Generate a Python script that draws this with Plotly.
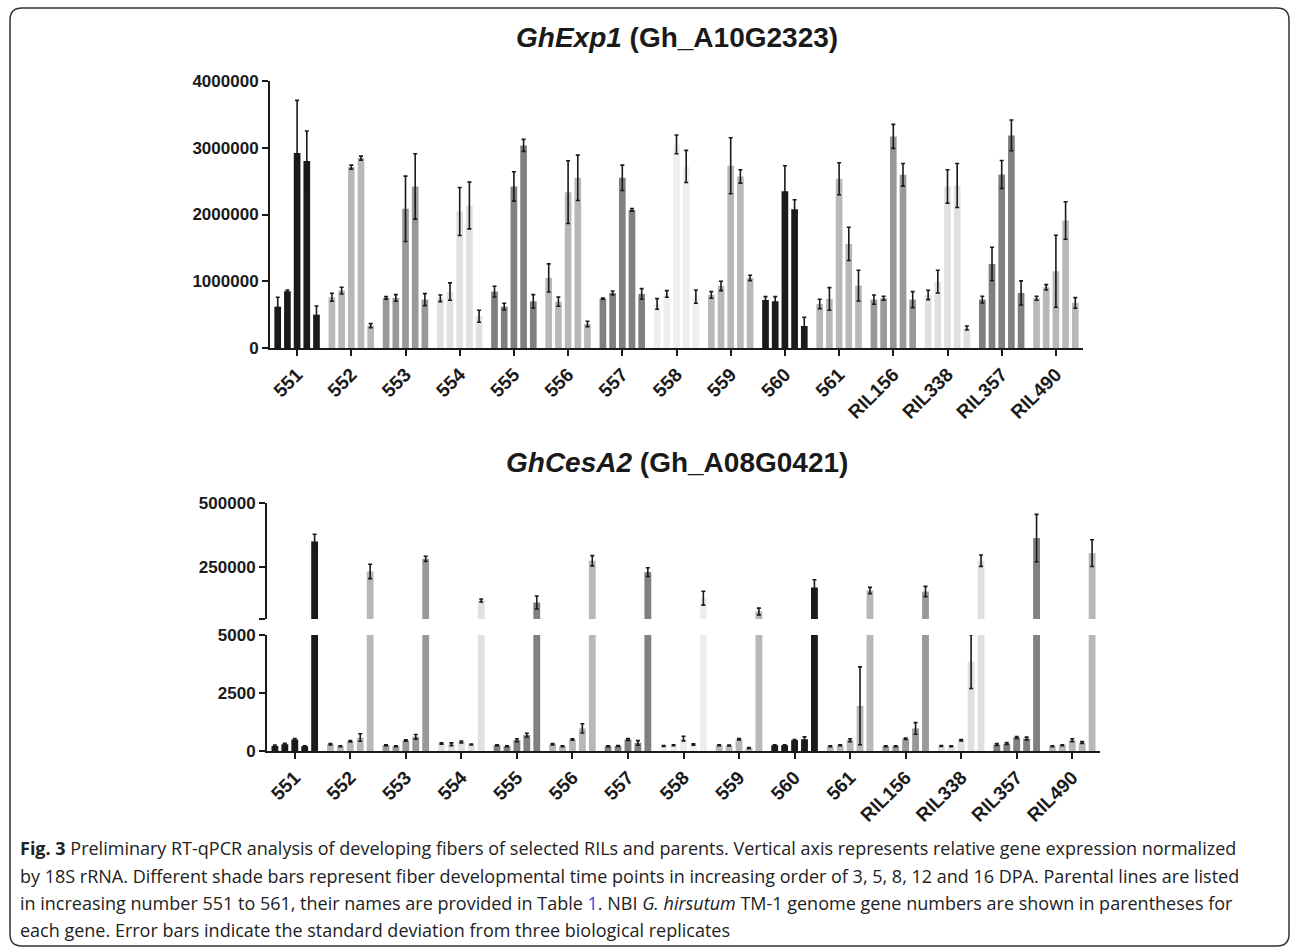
import plotly.graph_objects as go

W, H = 1292, 949

groups = ["551", "552", "553", "554", "555", "556", "557", "558", "559", "560",
          "561", "RIL156", "RIL338", "RIL357", "RIL490"]
group_colors = ["#1a1a1a", "#b8b8b8", "#999999", "#e0e0e0", "#808080", "#b8b8b8",
                "#808080", "#eeeeee", "#b8b8b8", "#1a1a1a", "#b8b8b8", "#999999",
                "#e0e0e0", "#808080", "#b8b8b8"]
time_points = ["3 DPA", "5 DPA", "8 DPA", "12 DPA", "16 DPA"]

# GhExp1 (Gh_A10G2323): mean per group, 5 time points
exp1_mean = [
    [620000, 850000, 2920000, 2800000, 500000],
    [760000, 860000, 2710000, 2845000, 335000],
    [750000, 750000, 2085000, 2420000, 725000],
    [745000, 845000, 2045000, 2135000, 475000],
    [845000, 620000, 2420000, 3035000, 700000],
    [1050000, 695000, 2335000, 2550000, 360000],
    [740000, 825000, 2550000, 2070000, 810000],
    [660000, 810000, 3050000, 2720000, 770000],
    [795000, 930000, 2730000, 2570000, 1050000],
    [720000, 700000, 2350000, 2080000, 330000],
    [660000, 735000, 2535000, 1560000, 935000],
    [725000, 745000, 3170000, 2595000, 725000],
    [795000, 995000, 2420000, 2435000, 300000],
    [725000, 1260000, 2600000, 3185000, 825000],
    [745000, 910000, 1150000, 1910000, 675000],
]
exp1_sd = [
    [140000, 20000, 790000, 450000, 130000],
    [60000, 50000, 30000, 30000, 30000],
    [20000, 50000, 490000, 490000, 90000],
    [50000, 130000, 360000, 350000, 90000],
    [80000, 50000, 220000, 90000, 100000],
    [210000, 70000, 470000, 340000, 40000],
    [10000, 30000, 190000, 20000, 80000],
    [80000, 50000, 140000, 240000, 100000],
    [50000, 70000, 420000, 100000, 40000],
    [50000, 70000, 380000, 140000, 130000],
    [70000, 170000, 240000, 250000, 230000],
    [70000, 30000, 180000, 170000, 120000],
    [70000, 170000, 250000, 330000, 30000],
    [50000, 250000, 210000, 230000, 180000],
    [30000, 40000, 540000, 280000, 80000],
]

# GhCesA2 (Gh_A08G0421)
cesa_mean = [
    [218, 290, 494, 203, 351000],
    [290, 203, 420, 581, 234500],
    [247, 203, 450, 610, 283700],
    [320, 290, 392, 276, 121800],
    [247, 203, 465, 683, 114000],
    [290, 203, 494, 974, 276000],
    [203, 218, 494, 349, 231900],
    [218, 247, 538, 276, 130800],
    [247, 233, 509, 131, 79000],
    [247, 247, 465, 509, 172300],
    [203, 247, 465, 1948, 160600],
    [203, 203, 523, 974, 156700],
    [218, 203, 465, 3852, 276000],
    [276, 320, 581, 538, 364000],
    [203, 247, 465, 363, 305700],
]
cesa_sd = [
    [40, 40, 40, 20, 28000],
    [30, 20, 30, 160, 28000],
    [20, 20, 30, 100, 10000],
    [30, 60, 40, 20, 6000],
    [20, 20, 60, 80, 25000],
    [30, 20, 30, 200, 20000],
    [20, 20, 40, 100, 17000],
    [20, 20, 100, 30, 27000],
    [20, 20, 30, 20, 13000],
    [20, 20, 30, 100, 30000],
    [20, 20, 60, 1680, 12000],
    [20, 20, 30, 250, 20000],
    [20, 20, 30, 1160, 22000],
    [40, 40, 40, 60, 92000],
    [20, 20, 60, 40, 52000],
]

exp1_ticks = [0, 1000000, 2000000, 3000000, 4000000]
cesa_low_ticks = [0, 2500, 5000]
cesa_high_ticks = [50000, 250000, 500000]
cesa_high_labels = ["", "250000", "500000"]

FONT = "Arial, Liberation Sans, sans-serif"
INK = "#1a1a1a"


def px_x(p):
    return p / W


def px_y(p):
    return 1 - p / H


fig = go.Figure()


def add_bars(mean, sd, xa, ya):
    for t in range(len(time_points)):
        fig.add_trace(go.Bar(
            x=groups,
            y=[row[t] for row in mean],
            name=time_points[t],
            marker=dict(color=group_colors, line=dict(width=0)),
            error_y=dict(type="data", array=[row[t] for row in sd],
                         color=INK, thickness=1.6, width=2),
            xaxis=xa, yaxis=ya, showlegend=False,
        ))


add_bars(exp1_mean, exp1_sd, "x", "y")
add_bars(cesa_mean, cesa_sd, "x2", "y2")
add_bars(cesa_mean, cesa_sd, "x3", "y3")

xtickfont = dict(family=FONT, size=19, color=INK, weight="bold")
ytickfont = dict(family=FONT, size=17, color=INK, weight="bold")
xcommon = dict(type="category", range=[-0.5, 14.5], showline=True, linecolor=INK,
               linewidth=2, ticks="outside", ticklen=6, tickwidth=1.5, tickcolor=INK,
               tickangle=-45, tickfont=xtickfont, showgrid=False, zeroline=False,
               fixedrange=True, automargin=False)
ycommon = dict(showline=True, linecolor=INK, linewidth=2, ticks="outside", ticklen=6,
               tickwidth=1.5, tickcolor=INK, tickfont=ytickfont, showgrid=False,
               zeroline=False, tickformat="d", fixedrange=True, automargin=False)

fig.update_layout(
    template="none",
    width=W, height=H, autosize=False,
    margin=dict(l=0, r=0, t=0, b=0, pad=0, autoexpand=False),
    paper_bgcolor="white", plot_bgcolor="white",
    barmode="group", bargap=0.106, bargroupgap=0.31,
    font=dict(family=FONT, color=INK),
    xaxis=dict(xcommon, domain=[px_x(270), px_x(1083)], anchor="y"),
    yaxis=dict(ycommon, domain=[px_y(348), px_y(81)], anchor="x",
               range=[0, 4000000], tickvals=exp1_ticks),
    xaxis2=dict(xcommon, domain=[px_x(267), px_x(1100)], anchor="y2"),
    yaxis2=dict(ycommon, domain=[px_y(751), px_y(635)], anchor="x2",
                range=[0, 5000], tickvals=cesa_low_ticks),
    xaxis3=dict(domain=[px_x(267), px_x(1100)], anchor="y3", type="category",
                range=[-0.5, 14.5], visible=False, fixedrange=True,
                automargin=False),
    yaxis3=dict(ycommon, domain=[px_y(619), px_y(503)], anchor="x3",
                range=[50000, 500000], tickvals=cesa_high_ticks,
                ticktext=cesa_high_labels),
)

annotations = [
    dict(text="<b><i>GhExp1</i> (Gh_A10G2323)</b>", x=px_x(677), y=px_y(38),
         font=dict(family=FONT, size=28, color=INK)),
    dict(text="<b><i>GhCesA2</i> (Gh_A08G0421)</b>", x=px_x(677), y=px_y(462),
         font=dict(family=FONT, size=28, color=INK)),
]
for a in annotations:
    a.update(xref="paper", yref="paper", showarrow=False, xanchor="center",
             yanchor="middle")

caption_lines = [
    "<b>Fig. 3</b> Preliminary RT-qPCR analysis of developing fibers of selected RILs and parents. Vertical axis represents relative gene expression normalized",
    "by 18S rRNA. Different shade bars represent fiber developmental time points in increasing order of 3, 5, 8, 12 and 16 DPA. Parental lines are listed",
    "in increasing number 551 to 561, their names are provided in Table <span style='color:#2a4fd6'>1</span>. NBI <i>G. hirsutum</i> TM-1 genome gene numbers are shown in parentheses for",
    "each gene. Error bars indicate the standard deviation from three biological replicates",
]
caption_y = [848, 876, 903, 930]
for line, yy in zip(caption_lines, caption_y):
    annotations.append(dict(text=line, x=px_x(18), y=px_y(yy), xref="paper",
                            yref="paper", showarrow=False, xanchor="left",
                            yanchor="middle", align="left",
                            font=dict(family="Open Sans, Noto Sans, sans-serif",
                                      size=18, color="#222222")))
fig.update_layout(annotations=annotations)

# rounded frame
x0, x1, y0, y1, r = 10, 1289, 8, 946, 12
pts = [
    ("M", x0 + r, y0), ("L", x1 - r, y0), ("Q", x1, y0, x1, y0 + r),
    ("L", x1, y1 - r), ("Q", x1, y1, x1 - r, y1), ("L", x0 + r, y1),
    ("Q", x0, y1, x0, y1 - r), ("L", x0, y0 + r), ("Q", x0, y0, x0 + r, y0),
]
path = ""
for p in pts:
    cmd, coords = p[0], p[1:]
    s = []
    for i in range(0, len(coords), 2):
        s.append(f"{px_x(coords[i]):.5f},{px_y(coords[i + 1]):.5f}")
    path += cmd + " ".join(s) + " "
path += "Z"
fig.add_shape(type="path", path=path, xref="paper", yref="paper",
              line=dict(color="#333333", width=1.5), layer="below")

fig.write_html("out.html")
